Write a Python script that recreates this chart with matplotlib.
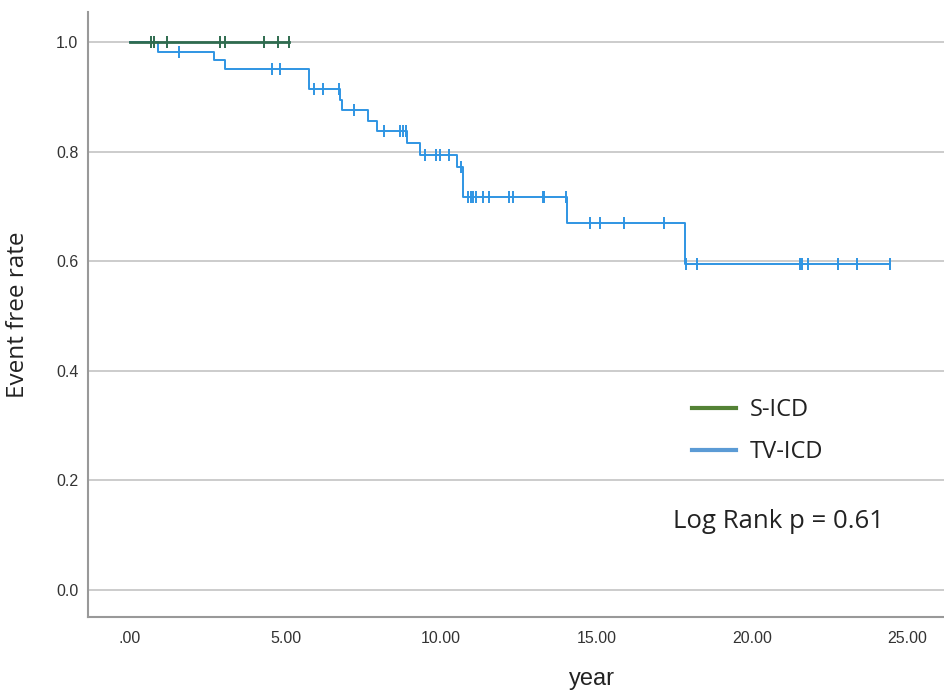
import numpy as np
import matplotlib
matplotlib.use("Agg")
import matplotlib.pyplot as plt
from matplotlib.lines import Line2D

# ---- data ----
groups = ["S-ICD", "TV-ICD"]

sicd_event_times = [0.0]
sicd_event_surv = [1.0]
sicd_censor_times = [0.68, 0.78, 1.20, 2.89, 3.05, 4.32, 4.75, 5.12]

tv_event_times = [0.0, 0.91, 2.70, 3.05, 5.77, 6.76, 6.80, 7.66, 7.93, 8.89,
                  9.32, 10.50, 10.70, 14.05, 17.85]
tv_event_surv = [1.0, 0.982, 0.968, 0.950, 0.914, 0.895, 0.876, 0.856, 0.838,
                 0.816, 0.794, 0.771, 0.718, 0.669, 0.594]
tv_censor_times = [1.58, 4.58, 4.82, 5.93, 6.19, 6.72, 7.20, 8.17, 8.68, 8.77,
                   8.87, 9.49, 9.84, 9.97, 10.24, 10.63, 10.88, 10.95, 11.04,
                   11.13, 11.34, 11.55, 12.19, 12.30, 13.29, 13.32, 14.02,
                   14.79, 15.11, 15.89, 17.18, 17.88, 18.22, 21.54, 21.60,
                   21.81, 22.75, 23.36, 24.44]

x_ticks = [0, 5, 10, 15, 20, 25]
x_tick_labels = [".00", "5.00", "10.00", "15.00", "20.00", "25.00"]
y_ticks = [0.0, 0.2, 0.4, 0.6, 0.8, 1.0]
y_tick_labels = ["0.0", "0.2", "0.4", "0.6", "0.8", "1.0"]
p_text = "Log Rank p = 0.61"

line_colors = {"S-ICD": "#2f6b4f", "TV-ICD": "#2f95e3"}
legend_colors = {"S-ICD": "#548235", "TV-ICD": "#5b9bd5"}

tick_font = ["Liberation Sans", "DejaVu Sans"]
label_font = ["Open Sans", "DejaVu Sans"]

fig = plt.figure(figsize=(9.44, 6.90), dpi=100)
ax = fig.add_axes([88 / 944, 73 / 690, 1 - 88 / 944, (617 - 12) / 690])


def km_curve(ax, ev_t, ev_s, cens, color, lw):
    ev_t = np.asarray(ev_t)
    ev_s = np.asarray(ev_s)
    end = max(max(cens), ev_t[-1])
    xs = np.append(ev_t, end)
    ys = np.append(ev_s, ev_s[-1])
    ax.step(xs, ys, where="post", color=color, lw=lw, zorder=3)
    cens = np.asarray(cens)
    idx = np.searchsorted(ev_t, cens, side="right") - 1
    ax.plot(cens, ev_s[idx], linestyle="none", marker="|", markersize=8,
            markeredgewidth=1.4, color=color, zorder=4)


km_curve(ax, tv_event_times, tv_event_surv, tv_censor_times,
         line_colors["TV-ICD"], 1.4)
km_curve(ax, sicd_event_times, sicd_event_surv, sicd_censor_times,
         line_colors["S-ICD"], 2.0)

ax.set_xlim(-1.35, 26.17)
ax.set_ylim(-0.0493, 1.0547)

ax.set_xticks(x_ticks)
ax.set_xticklabels(x_tick_labels, family=tick_font, fontsize=11.5,
                   color="#333333")
ax.set_yticks(y_ticks)
ax.set_yticklabels(y_tick_labels, family=tick_font, fontsize=11.5,
                   color="#333333")
ax.tick_params(axis="x", length=0, pad=10)
ax.tick_params(axis="y", length=0, pad=7)

ax.yaxis.grid(True, color="#c8c8c8", lw=1.3)
ax.set_axisbelow(True)
for s in ["top", "right"]:
    ax.spines[s].set_visible(False)
for s in ["left", "bottom"]:
    ax.spines[s].set_color("#999999")
    ax.spines[s].set_linewidth(1.5)

ax.set_xlabel("year", family=tick_font, fontsize=17, color="#222222")
ax.xaxis.set_label_coords((592 - 88) / 856, -0.084)
ax.set_ylabel("Event free rate", family=label_font, fontsize=17.5,
              color="#222222")
ax.yaxis.set_label_coords(-0.068, 0.5)

handles = [Line2D([], [], color=legend_colors[g], lw=3) for g in groups]
leg = ax.legend(handles, groups, loc="center left",
                bbox_to_anchor=(692 / 944, 1 - 431 / 690),
                bbox_transform=fig.transFigure, frameon=False,
                prop={"family": label_font, "size": 17}, handlelength=1.86,
                handletextpad=0.6, labelspacing=0.75, borderpad=0,
                borderaxespad=0)
for t in leg.get_texts():
    t.set_color("#222222")

fig.text(673 / 944, 1 - 521 / 690, p_text, family=label_font, fontsize=18.5,
         color="#222222", ha="left", va="center")

fig.savefig("out.png", dpi=100)
